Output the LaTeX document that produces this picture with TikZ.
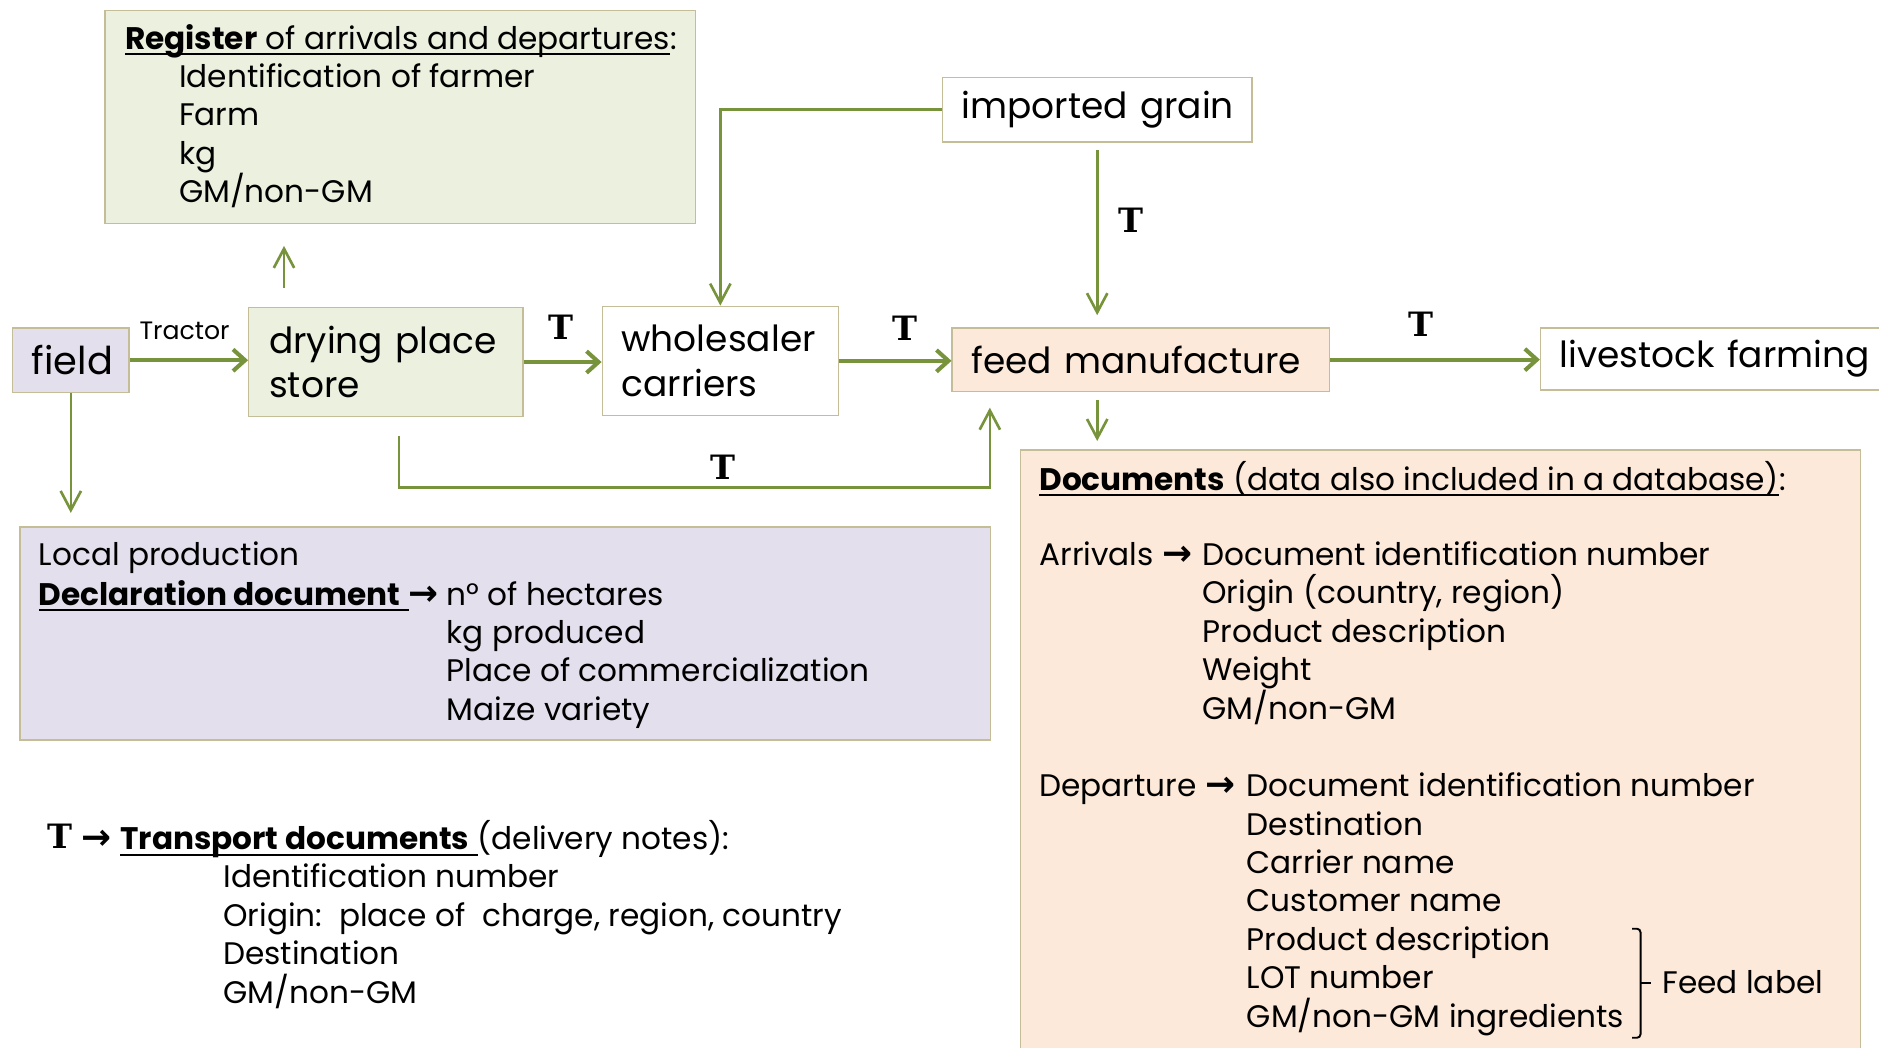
\documentclass[tikz,border=0pt]{standalone}
\usepackage{fontspec}
\setmainfont{Poppins}
\newfontfamily\tfont{DejaVu Serif}
\newfontfamily\symfont{DejaVu Sans}
\usetikzlibrary{arrows.meta,positioning}

\definecolor{flowgreen}{HTML}{77933C}
\definecolor{boxline}{HTML}{C4BD97}
\definecolor{lilac}{HTML}{E4DFEC}
\definecolor{palegreen}{HTML}{EBF1DE}
\definecolor{peach}{HTML}{FDE9D9}

\newcommand{\toarrow}{{\symfont\bfseries\scalebox{1.15}{→}}}
\newcommand{\docul}[1]{\setbox0=\hbox{#1}\rlap{\rule[-2.6pt]{\wd0}{0.9pt}}\box0}

\begin{document}
\begin{tikzpicture}[x=0.5pt, y=-0.5pt,
    box/.style={draw=boxline, line width=0.6pt, anchor=north west, inner sep=0pt},
    stage/.style={box, inner xsep=8pt, align=left, font=\fontsize{15}{18.5}\selectfont},
    rowtext/.style={anchor=west, inner sep=0pt, text height=9pt, text depth=0pt, font=\fontsize{13}{16}\selectfont},
    tlabel/.style={inner sep=0pt, font=\fontsize{14}{14}\tfont\bfseries},
    link/.style={draw=flowgreen, line width=1.1pt, -{Straight Barb[length=8pt,width=8.5pt]}},
    mainlink/.style={draw=flowgreen, line width=1.7pt, -{Straight Barb[length=5pt,width=9pt]}}]
    \path[use as bounding box, fill=white] (0,0) rectangle (1568,874);

    % Draw panels
    \node[box, fill=palegreen, minimum width=246.5pt, minimum height=89pt] (register) at (87,8) {};
    \node[box, fill=lilac, minimum width=405pt, minimum height=89pt] (local) at (16,439) {};
    \node[box, fill=peach, minimum width=350.5pt, minimum height=252.5pt] (docs) at (851,375) {};

    % Draw stages
    \node[stage, fill=lilac, align=center, text width=32.5pt, minimum height=27pt, font=\fontsize{16}{18.5}\selectfont] (field) at (10,273) {field};
    \node[stage, fill=palegreen, inner xsep=8.5pt, text width=97.5pt, minimum height=45.5pt] (drying) at (207,256) {\mbox{drying place}\\store};
    \node[stage, fill=white, text width=82.5pt, minimum height=45.5pt] (whole) at (502,255) {wholesaler\\carriers};
    \node[stage, fill=peach, text width=141.5pt, minimum height=26.5pt] (feed) at (794,273) {\mbox{feed manufacture}};
    \node[stage, fill=white, text width=131.5pt, minimum height=26pt] (live) at (1285,273) {\mbox{livestock farming}};
    \node[stage, fill=white, text width=113pt, minimum height=27pt] (grain) at (786,64) {\mbox{imported grain}};

    % Register text
    \node[rowtext] (reghead) at (104,32) {\docul{\textbf{Register} of arrivals and departures}:};
    \foreach \t [count=\i] in {Identification of farmer, Farm, kg, GM/non-GM}
        \node[rowtext] (reg\i) at (149,{32+32*\i}) {\t};

    % Local production text
    \node[rowtext] (lochead) at (32,463) {Local production};
    \node[rowtext] (decl) at (32,496) {\docul{\textbf{Declaration document}\ }\toarrow};
    \node[rowtext, right=3pt of decl] (hect) {n° of hectares};
    \foreach \t [count=\i] in {kg produced, Place of commercialization, Maize variety}
        \path (hect.west) ++(0,32*\i) node[rowtext] (loc\i) {\t};

    % Transport legend
    \node[tlabel] (tlegend) at (50,698) {T};
    \node[rowtext] (trhead) at (68,700) {\toarrow\ \docul{\textbf{Transport documents}\ }(delivery notes):};
    \foreach \t [count=\i] in {Identification number, {Origin:\ \ place of\ \ charge, region, country}, Destination, GM/non-GM}
        \node[rowtext] (tr\i) at (186,{700+32*\i}) {\t};

    % Documents text
    \node[rowtext] (dochead) at (867,400) {\docul{\textbf{Documents} (data also included in a database)}:};
    \node[rowtext] (arrhead) at (867,463) {Arrivals \toarrow};
    \foreach \t [count=\i from 0] in {Document identification number, {Origin (country, region)}, Product description, Weight, GM/non-GM}
        \node[rowtext] (arr\i) at (1003,{463+32*\i}) {\t};
    \node[rowtext] (dephead) at (867,656) {Departure \toarrow};
    \foreach \t [count=\i from 0] in {Document identification number, Destination, Carrier name, Customer name, Product description, LOT number, GM/non-GM ingredients}
        \node[rowtext] (dep\i) at (1040,{656+32*\i}) {\t};
    \node[rowtext] (feedlbl) at (1387,820) {Feed label};
    \draw[line width=0.8pt, rounded corners=1.5pt] (1362,775) -- (1369,775) -- (1369,866) -- (1362,866);
    \draw[line width=0.8pt, shorten >=4.5pt] (1369,820) -- (feedlbl.west);

    % Draw main flow
    \draw[mainlink] (field.east) -- (field.east -| drying.west);
    \node[inner sep=0pt, font=\fontsize{10.5}{12}\selectfont] (tractor) at (154,276) {Tractor};
    \draw[mainlink] (drying.east) -- (drying.east -| whole.west);
    \draw[mainlink] (whole.east) -- (whole.east -| feed.west);
    \draw[mainlink] (feed.east) -- (feed.east -| live.west);

    % Draw side links
    \coordinate (regx) at (237,0);
    \coordinate (busl) at (333,407);
    \coordinate (busr) at (826,407);
    \draw[link] (grain.west) -| (whole.north);
    \draw[link, shorten <=3pt, shorten >=5pt] (grain.south) -- (grain.south |- feed.north);
    \draw[link, shorten <=8pt, shorten >=9pt] (drying.north -| regx) -- (register.south -| regx);
    \draw[link, shorten >=5.5pt] (field.south) -- (field.south |- local.north);
    \draw[link, shorten <=8pt, shorten >=6.5pt] (drying.south -| busl) -- (busl) -- (busr) -- (feed.south -| busr);
    \draw[link, shorten <=3.5pt, shorten >=3.5pt] (feed.south -| grain.south) -- (docs.north -| grain.south);

    % T marks
    \node[tlabel] (tdry) at (468,273) {T};
    \node[tlabel] (twhole) at (755,274) {T};
    \node[tlabel] (tlive) at (1186,271) {T};
    \node[tlabel] (tgrain) at (944,184) {T};
    \node[tlabel] (tbus) at (603,390) {T};
\end{tikzpicture}
\end{document}
